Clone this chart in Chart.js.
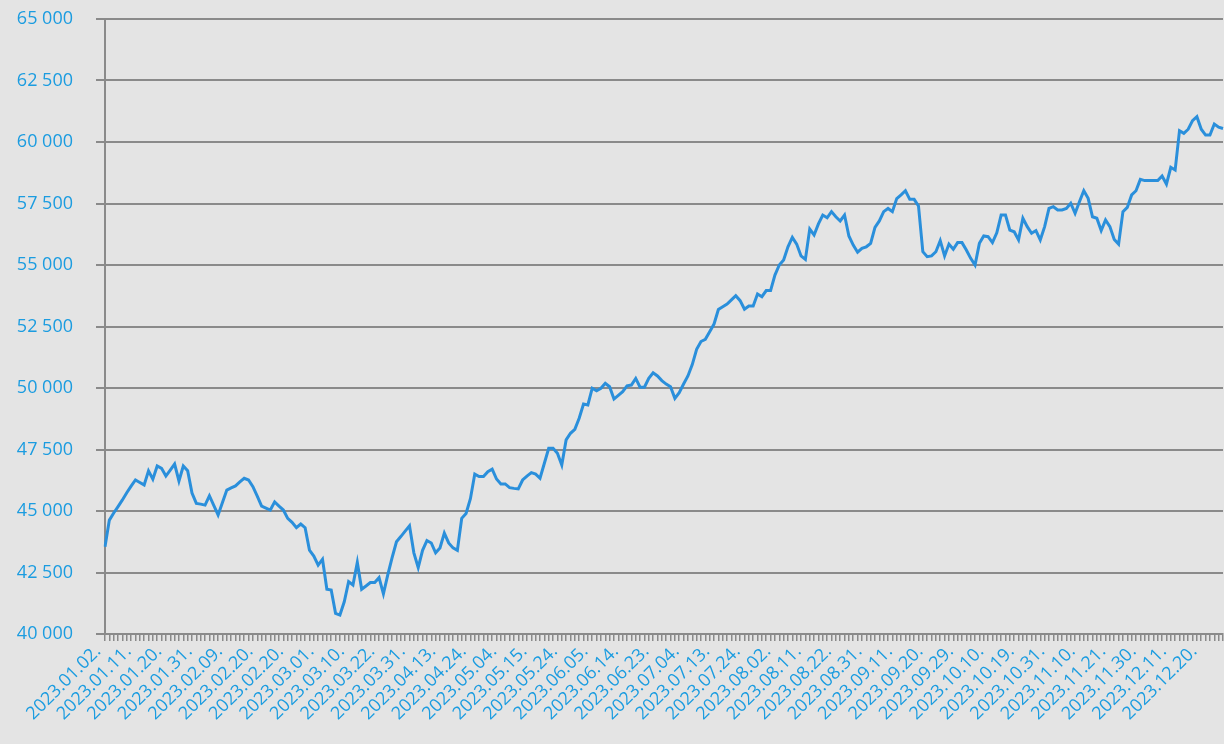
<!DOCTYPE html>
<html>
<head>
<meta charset="utf-8">
<script src="https://cdn.jsdelivr.net/npm/chart.js@4.4.0/dist/chart.umd.min.js"></script>
<style>
    html, body { margin: 0; padding: 0; background: #e4e4e4; }
    #wrap { width: 1224px; height: 744px; }
</style>
</head>
<body>
<div id="wrap"><canvas id="chart"></canvas></div>
<script>
// trading days of 2023, per month (the source data has Feb 20-28 twice)
const tradingDays = [
    ['01', [2, 3, 4, 5, 6, 9, 10, 11, 12, 13, 16, 17, 18, 19, 20, 23, 24, 25, 26, 27, 30, 31]],
    ['02', [1, 2, 3, 6, 7, 8, 9, 10, 13, 14, 15, 16, 17, 20, 21, 22, 23, 24, 27, 28, 20, 21, 22, 23, 24, 27, 28]],
    ['03', [1, 2, 3, 6, 7, 8, 9, 10, 13, 14, 16, 17, 20, 21, 22, 23, 24, 27, 28, 29, 30, 31]],
    ['04', [3, 4, 5, 6, 11, 12, 13, 14, 17, 18, 19, 20, 21, 24, 25, 26, 27, 28]],
    ['05', [2, 3, 4, 5, 8, 9, 10, 11, 12, 15, 16, 17, 18, 19, 22, 23, 24, 25, 26, 30, 31]],
    ['06', [1, 2, 5, 6, 7, 8, 9, 12, 13, 14, 15, 16, 19, 20, 21, 22, 23, 26, 27, 28, 29, 30]],
    ['07', [3, 4, 5, 6, 7, 10, 11, 12, 13, 14, 17, 18, 19, 20, 21, 24, 25, 26, 27, 28, 31]],
    ['08', [1, 2, 3, 4, 7, 8, 9, 10, 11, 14, 15, 16, 17, 18, 21, 22, 23, 24, 25, 28, 29, 30, 31]],
    ['09', [1, 4, 5, 6, 7, 8, 11, 12, 13, 14, 15, 18, 19, 20, 21, 22, 25, 26, 27, 28, 29]],
    ['10', [2, 3, 4, 5, 6, 9, 10, 11, 12, 13, 16, 17, 18, 19, 20, 24, 25, 26, 27, 30, 31]],
    ['11', [2, 3, 6, 7, 8, 9, 10, 13, 14, 15, 16, 17, 20, 21, 22, 23, 24, 27, 28, 29, 30]],
    ['12', [1, 4, 5, 6, 7, 8, 11, 12, 13, 14, 15, 18, 19, 20, 21, 22, 27, 28, 29]],
];

const closes = [
    43550, 44630, 44920, 45180, 45450, 45740, 46010, 46260, 46160, 46060,
    46630, 46290, 46830, 46735, 46420, 46660, 46910, 46220, 46830, 46640,
    45730, 45310, 45280, 45240, 45620, 45230, 44840, 45350, 45850, 45940,
    46020, 46180, 46330, 46260, 45990, 45600, 45200, 45120, 45040, 45370,
    45200, 45040, 44700, 44540, 44320, 44470, 44320, 43410, 43170, 42800,
    43040, 41820, 41790, 40840, 40770, 41310, 42130, 41990, 42910, 41820,
    41950, 42090, 42090, 42290, 41630, 42400, 43100, 43750, 43960, 44180,
    44400, 43300, 42700, 43400, 43800, 43700, 43300, 43500, 44100, 43700,
    43500, 43400, 44700, 44900, 45500, 46500, 46400, 46400, 46600, 46700,
    46300, 46100, 46100, 45950, 45920, 45900, 46260, 46420, 46560, 46500,
    46330, 46940, 47550, 47550, 47350, 46870, 47890, 48160, 48320, 48770,
    49350, 49310, 49990, 49890, 49990, 50190, 50050, 49550, 49700, 49850,
    50090, 50120, 50390, 50030, 50030, 50390, 50620, 50490, 50300, 50160,
    50050, 49580, 49810, 50160, 50490, 50950, 51570, 51890, 51980, 52290,
    52600, 53190, 53300, 53410, 53580, 53750, 53550, 53200, 53330, 53330,
    53820, 53710, 53960, 53960, 54590, 55000, 55200, 55740, 56120, 55850,
    55370, 55230, 56460, 56220, 56670, 57030, 56920, 57170, 56960, 56790,
    57030, 56180, 55810, 55520, 55680, 55740, 55880, 56530, 56790, 57170,
    57300, 57170, 57700, 57850, 58020, 57670, 57670, 57400, 55540, 55340,
    55370, 55540, 55990, 55370, 55850, 55640, 55910, 55910, 55610, 55270,
    55000, 55880, 56180, 56150, 55910, 56310, 57030, 57030, 56420, 56350,
    56020, 56900, 56560, 56290, 56400, 56020, 56560, 57300, 57370, 57240,
    57240, 57300, 57510, 57100, 57570, 58020, 57710, 56960, 56900, 56400,
    56830, 56560, 56040, 55850, 57170, 57340, 57850, 58020, 58480, 58430,
    58430, 58430, 58430, 58620, 58290, 58970, 58860, 60460, 60350, 60520,
    60870, 61030, 60520, 60280, 60280, 60730, 60600, 60550
];

const labelEvery = 7;
const yMin = 40000;
const yMax = 65000;
const yStep = 2500;

const blue = '#1b9ce0';
const lineBlue = '#2a8fdb';
const grey = '#8a8a8a';

let labels = [];
tradingDays.forEach(([month, days]) => {
    days.forEach(d => labels.push(`2023.${month}.${String(d).padStart(2, '0')}.`));
});

function spaced(v) {
    return String(v).replace(/\B(?=(\d{3})+(?!\d))/g, ' ');
}

Chart.defaults.font.family = "'Open Sans', sans-serif";
Chart.defaults.font.size = 18;

new Chart(document.getElementById('chart'), {
    type: 'line',
    data: {
        labels: labels,
        datasets: [{
            data: closes,
            borderColor: lineBlue,
            borderWidth: 3,
            pointRadius: 0,
            tension: 0,
            fill: false
        }]
    },
    options: {
        responsive: true,
        maintainAspectRatio: false,
        animation: false,
        events: [],
        layout: { padding: { left: 0, top: 19, right: 1, bottom: 0 } },
        plugins: { legend: { display: false }, tooltip: { enabled: false } },
        scales: {
            x: {
                offset: false,
                grid: {
                    drawOnChartArea: false,
                    drawTicks: true,
                    tickLength: 7,
                    color: grey,
                    lineWidth: 1.5
                },
                border: { display: true, color: grey, width: 2 },
                ticks: {
                    autoSkip: false,
                    minRotation: 45,
                    maxRotation: 45,
                    padding: 0,
                    labelOffset: -7,
                    color: blue,
                    callback: (v, i) => (i % labelEvery === 0 ? labels[i] : '')
                },
                // keep the plot wide and the labels running off the bottom like the original
                afterFit: scale => {
                    scale.paddingLeft = 0;
                    scale.paddingRight = 0;
                    scale.height = 110;
                }
            },
            y: {
                min: yMin,
                max: yMax,
                grid: { color: grey, lineWidth: 2, tickLength: 9 },
                border: { display: true, color: grey, width: 2 },
                ticks: {
                    stepSize: yStep,
                    padding: 23,
                    color: blue,
                    callback: v => spaced(v)
                },
                afterFit: scale => {
                    scale.width = 105;
                    scale.paddingTop = 0;
                    scale.paddingBottom = 0;
                }
            }
        }
    }
});
</script>
</body>
</html>
